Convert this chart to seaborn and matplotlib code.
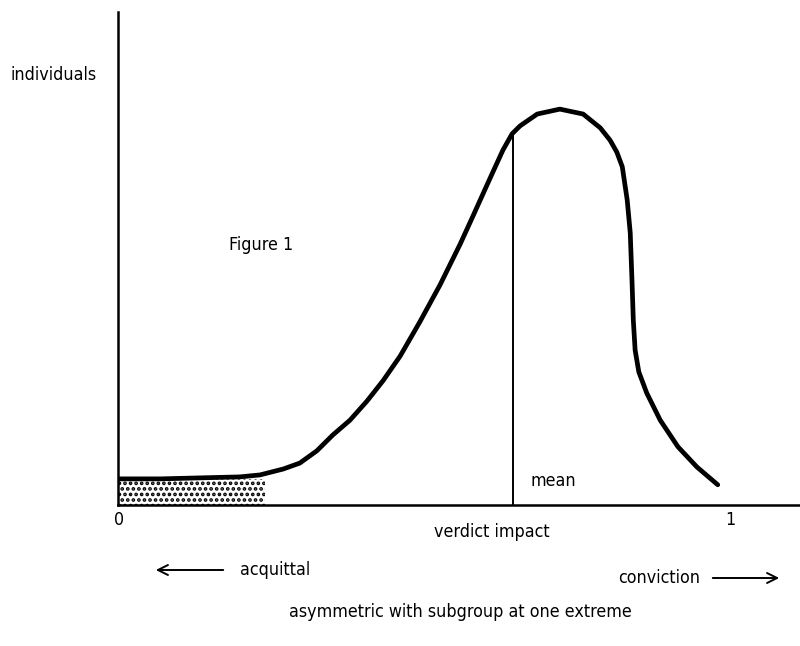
import matplotlib
matplotlib.use("Agg")
import matplotlib.pyplot as plt
import seaborn as sns

# curve (x: verdict impact 0..1, y: share of individuals)
impact = [0.000, 0.069, 0.134, 0.199, 0.232, 0.270, 0.297, 0.325, 0.351, 0.379,
          0.407, 0.433, 0.461, 0.493, 0.526, 0.559, 0.580, 0.608, 0.629, 0.644,
          0.657, 0.685, 0.722, 0.760, 0.788, 0.804, 0.815, 0.824, 0.832, 0.837,
          0.840, 0.842, 0.845, 0.851, 0.864, 0.886, 0.915, 0.946, 0.980]
individuals = [0.053, 0.053, 0.055, 0.057, 0.061, 0.073, 0.085, 0.110, 0.142, 0.172,
               0.211, 0.252, 0.302, 0.371, 0.446, 0.529, 0.586, 0.663, 0.720, 0.753,
               0.769, 0.793, 0.803, 0.793, 0.765, 0.740, 0.716, 0.686, 0.619, 0.552,
               0.450, 0.375, 0.314, 0.270, 0.227, 0.172, 0.118, 0.077, 0.041]
subgroup_end = 0.24
mean_impact = 0.645
mean_height = 0.753

sns.set_style("white")
plt.rcParams["font.family"] = ["DejaVu Sans"]
plt.rcParams["font.stretch"] = "condensed"
plt.rcParams["text.color"] = "black"
plt.rcParams["hatch.linewidth"] = 1.8

fig = plt.figure(figsize=(8, 6.46), dpi=100)
ax = fig.add_axes([118 / 800, 141 / 646, 682 / 800, 493 / 646])

sns.lineplot(x=impact, y=individuals, sort=False, color="black", lw=3.4, ax=ax,
             solid_joinstyle="round", solid_capstyle="round")

# shaded subgroup at the acquittal extreme
ax.fill_between([0, subgroup_end], 0, individuals[0], facecolor="white",
                edgecolor="black", hatch="...", lw=0)

ax.plot([mean_impact, mean_impact], [0, mean_height], color="black", lw=1.4)

ax.set_xlim(0, 682 / 612)
ax.set_ylim(0, 1)
ax.set_xticks([])
ax.set_yticks([])
sns.despine(ax=ax)
for s in ["left", "bottom"]:
    ax.spines[s].set_linewidth(1.8)
    ax.spines[s].set_color("black")

fs = 12.8
txt = dict(fontsize=fs, va="center", fontstretch="condensed")
fig.text(530 / 800, 1 - 481 / 646, "mean", **txt)
fig.text(229 / 800, 1 - 245 / 646, "Figure 1", **txt)
fig.text(10 / 800, 1 - 75 / 646, "individuals", **txt)
fig.text(119 / 800, 1 - 520 / 646, "0", ha="center", **txt)
fig.text(730 / 800, 1 - 520 / 646, "1", ha="center", **txt)
fig.text(492 / 800, 1 - 532 / 646, "verdict impact", ha="center", **txt)
fig.text(240 / 800, 1 - 570 / 646, "acquittal", **txt)
fig.text(700 / 800, 1 - 578 / 646, "conviction", ha="right", **txt)
fig.text(460 / 800, 1 - 612 / 646, "asymmetric with subgroup at one extreme",
         ha="center", **txt)

arrow = dict(arrowstyle="->", color="black", lw=1.4, mutation_scale=18)
ax.annotate("", xy=(153, 646 - 570), xytext=(226, 646 - 570),
            xycoords="figure pixels", textcoords="figure pixels", arrowprops=arrow)
ax.annotate("", xy=(782, 646 - 578), xytext=(710, 646 - 578),
            xycoords="figure pixels", textcoords="figure pixels", arrowprops=arrow)

fig.savefig("out.png", dpi=100)
